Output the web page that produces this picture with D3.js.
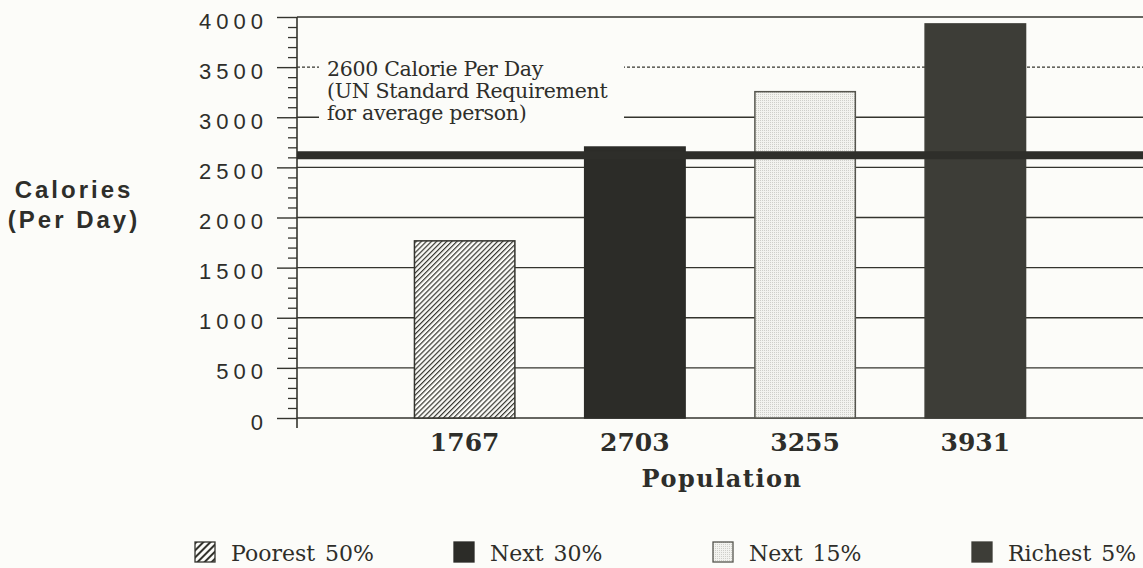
<!DOCTYPE html>
<html>
<head>
<meta charset="utf-8">
<script src="https://cdn.jsdelivr.net/npm/d3@7"></script>
<style>
  html, body { margin: 0; padding: 0; background: #fcfcf9; }
  svg { display: block; }
</style>
</head>
<body>
<svg id="chart" width="1143" height="568"></svg>
<script>
// ---- data ----
const categories = ["Poorest 50%", "Next 30%", "Next 15%", "Richest 5%"];
const calories = [1767, 2703, 3255, 3931];
const standardValue = 2600;
const standardLines = ["2600 Calorie Per Day", "(UN Standard Requirement", "for average person)"];
const majorTicks = [0, 500, 1000, 1500, 2000, 2500, 3000, 3500, 4000];
const yTitle = ["Calories", "(Per Day)"];
const xTitle = "Population";

// ---- setup ----
const W = 1143, H = 568;
const ink = "#34342e";
const svg = d3.select("#chart");
svg.append("rect").attr("width", W).attr("height", H).attr("fill", "#fcfcf9");

const defs = svg.append("defs");
const hatch = defs.append("pattern").attr("id", "hatch")
  .attr("patternUnits", "userSpaceOnUse").attr("width", 3.6).attr("height", 3.6)
  .attr("patternTransform", "rotate(45)");
hatch.append("rect").attr("width", 3.6).attr("height", 3.6).attr("fill", "#fcfcf9");
hatch.append("line").attr("x1", 0.6).attr("y1", 0).attr("x2", 0.6).attr("y2", 3.6)
  .attr("stroke", ink).attr("stroke-width", 1.2);
const hatchL = defs.append("pattern").attr("id", "hatchL")
  .attr("patternUnits", "userSpaceOnUse").attr("width", 5).attr("height", 5)
  .attr("patternTransform", "rotate(45)");
hatchL.append("rect").attr("width", 5).attr("height", 5).attr("fill", "#fcfcf9");
hatchL.append("line").attr("x1", 1).attr("y1", 0).attr("x2", 1).attr("y2", 5)
  .attr("stroke", ink).attr("stroke-width", 2);
const dots = defs.append("pattern").attr("id", "dots")
  .attr("patternUnits", "userSpaceOnUse").attr("width", 2).attr("height", 2);
dots.append("rect").attr("width", 2).attr("height", 2).attr("fill", "#f3f3ef");
dots.append("rect").attr("width", 1).attr("height", 1).attr("fill", "#cfcfca");

const fills = ["url(#hatch)", "#2c2c28", "url(#dots)", "#3d3d37"];
const legendFills = ["url(#hatchL)", "#2c2c28", "url(#dots)", "#3d3d37"];
const strokes = [ink, "#2c2c28", "#55554e", "#3d3d37"];

// ---- scales ----
const axisX = 297, rightX = W;
const y = d3.scaleLinear().domain([0, 4000]).range([418, 17]);
const x = d3.scaleBand().domain(categories).range([axisX, rightX])
  .paddingInner(0.41).paddingOuter(0.69);

// ---- gridlines ----
svg.append("g").selectAll("line").data(majorTicks).join("line")
  .attr("x1", axisX).attr("x2", rightX)
  .attr("y1", d => y(d)).attr("y2", d => y(d))
  .attr("stroke", ink).attr("stroke-width", 1.4)
  .attr("stroke-dasharray", d => d === 3500 ? "3,2" : null);

// ---- axis (major & minor ticks) ----
const minorTicks = d3.range(0, 4001, 100).filter(v => v % 500 !== 0);
const minorAxis = svg.append("g").attr("transform", `translate(${axisX},0)`)
  .call(d3.axisLeft(y).tickValues(minorTicks).tickSize(9).tickFormat(""));
minorAxis.select(".domain").remove();
minorAxis.selectAll("line").attr("stroke", ink).attr("stroke-width", 1.3);

const majorAxis = svg.append("g").attr("transform", `translate(${axisX},0)`)
  .call(d3.axisLeft(y).tickValues(majorTicks).tickSize(20).tickPadding(9)
    .tickSizeOuter(0).tickFormat(d3.format("d")));
majorAxis.select(".domain").remove();
majorAxis.selectAll("line").attr("stroke", ink).attr("stroke-width", 1.4);
majorAxis.selectAll("text")
  .attr("fill", "#2e2e2a")
  .attr("dy", "0.5em")
  .style("font-family", "'Liberation Sans', Arial, sans-serif")
  .style("font-size", "22px")
  .style("letter-spacing", "5px");

svg.append("line").attr("x1", axisX).attr("x2", axisX)
  .attr("y1", y(4000)).attr("y2", 428)
  .attr("stroke", ink).attr("stroke-width", 1.6);

// ---- annotation box (masks gridlines) ----
const ann = svg.append("g");
ann.append("rect").attr("x", 319).attr("y", y(3500) - 10).attr("width", 305).attr("height", 68)
  .attr("fill", "#fcfcf9");
ann.selectAll("text").data(standardLines).join("text")
  .attr("x", 327).attr("y", (d, i) => 76 + i * 22)
  .attr("fill", "#2e2e2a")
  .style("font-family", "'DejaVu Serif', serif")
  .style("font-size", "20.5px")
  .style("letter-spacing", "-0.3px")
  .text(d => d);

// ---- bars ----
svg.append("g").selectAll("rect").data(categories).join("rect")
  .attr("x", d => x(d)).attr("width", x.bandwidth())
  .attr("y", (d, i) => y(calories[i])).attr("height", (d, i) => y(0) - y(calories[i]))
  .attr("fill", (d, i) => fills[i])
  .attr("stroke", (d, i) => strokes[i]).attr("stroke-width", 1.5);

// ---- 2600 standard line ----
svg.append("line").attr("x1", axisX).attr("x2", rightX)
  .attr("y1", y(standardValue) - 2).attr("y2", y(standardValue) - 2)
  .attr("stroke", "#2e2e2a").attr("stroke-width", 8);

// ---- value labels ----
svg.append("g").selectAll("text").data(categories).join("text")
  .attr("x", d => x(d) + x.bandwidth() / 2).attr("y", 451)
  .attr("text-anchor", "middle")
  .attr("fill", "#2e2e2a")
  .style("font-family", "'DejaVu Serif', serif")
  .style("font-weight", "bold")
  .style("font-size", "25px")
  .text((d, i) => calories[i]);

svg.append("text").attr("x", (x(categories[1]) + x(categories[2]) + x.bandwidth()) / 2 + 2).attr("y", 487)
  .attr("text-anchor", "middle").attr("fill", "#2e2e2a")
  .style("font-family", "'DejaVu Serif', serif").style("font-weight", "bold")
  .style("font-size", "24px").style("letter-spacing", "1.5px")
  .text(xTitle);

// ---- y title ----
svg.append("g").selectAll("text").data(yTitle).join("text")
  .attr("x", 74).attr("y", (d, i) => 198 + i * 30)
  .attr("text-anchor", "middle").attr("fill", "#2e2e2a")
  .style("font-family", "'Liberation Sans', Arial, sans-serif").style("font-weight", "bold")
  .style("font-size", "24px").style("letter-spacing", "3px")
  .text(d => d);

// ---- legend ----
const lg = svg.append("g").selectAll("g").data(categories).join("g")
  .attr("transform", (d, i) => `translate(${195 + i * 259},542)`);
lg.append("rect").attr("width", 20).attr("height", 20)
  .attr("fill", (d, i) => legendFills[i])
  .attr("stroke", (d, i) => strokes[i]).attr("stroke-width", 1.3);
lg.append("text").attr("x", 36).attr("y", 19)
  .attr("fill", "#2e2e2a")
  .style("font-family", "'DejaVu Serif', serif")
  .style("font-size", "22px")
  .style("word-spacing", "3px")
  .text(d => d);
</script>
</body>
</html>
